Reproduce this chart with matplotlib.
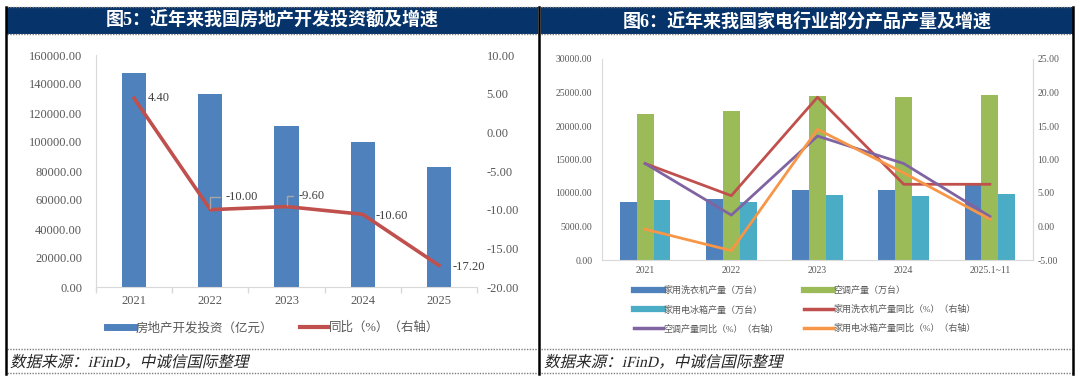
import matplotlib
matplotlib.use('Agg')
import numpy as np
import matplotlib.pyplot as plt
from matplotlib.lines import Line2D
from matplotlib.patches import Rectangle, PathPatch
from matplotlib.textpath import TextPath
from matplotlib.font_manager import FontProperties
from matplotlib.transforms import Affine2D

# ---------------- data ----------------
years_left = ['2021', '2022', '2023', '2024', '2025']
invest = [147602, 132895, 110913, 100280, 82788]
invest_yoy = [4.40, -10.00, -9.60, -10.60, -17.20]

cats_right = ['2021', '2022', '2023', '2024', '2025.1~11']
washer = [8600, 9106, 10458, 10440, 11300]
aircon = [21836, 22247, 24487, 24300, 24580]
fridge = [8992, 8664, 9632, 9550, 9900]
washer_yoy = [9.4, 4.6, 19.3, 6.3, 6.3]
aircon_yoy = [9.4, 1.7, 13.5, 9.4, 1.5]
fridge_yoy = [-0.4, -3.6, 14.5, 8.0, 1.1]

title_left = '图5：近年来我国房地产开发投资额及增速'
title_right = '图6：近年来我国家电行业部分产品产量及增速'
source_text = '数据来源：iFinD，中诚信国际整理'

# ---------------- style ----------------
SERIF = ['Liberation Serif', 'Noto Sans CJK SC']
plt.rcParams['font.family'] = SERIF
BLUE = '#4F81BD'
GREEN = '#9BBB59'
CYAN = '#4BACC6'
RED = '#C0504D'
PURPLE = '#8064A2'
ORANGE = '#F79646'
NAVY = '#05336A'
GRID = '#D9D9D9'
TXT = '#595959'

W, H = 1080, 380
fig = plt.figure(figsize=(W / 100, H / 100), dpi=100)


def fx(x):
    return x / W


def fy(y):
    return 1 - y / H


def add_ax(x0, y0, x1, y1):
    return fig.add_axes([fx(x0), fy(y1), (x1 - x0) / W, (y1 - y0) / H])


def hline(x0, x1, y, **kw):
    fig.add_artist(Line2D([fx(x0), fx(x1)], [fy(y), fy(y)], transform=fig.transFigure, **kw))


def vline(x, y0, y1, **kw):
    fig.add_artist(Line2D([fx(x), fx(x)], [fy(y0), fy(y1)], transform=fig.transFigure, **kw))


# ---------------- frames ----------------
for (x0, x1, title) in [(7, 538, title_left), (541, 1073, title_right)]:
    fig.add_artist(Rectangle((fx(x0), fy(34)), (x1 - x0) / W, 27 / H,
                             transform=fig.transFigure, color=NAVY, lw=0))
    fig.text(fx((x0 + x1) / 2), fy(21), title, color='white', fontsize=13,
             fontweight='bold', ha='center', va='center')
    for yy in (7, 34, 349, 373):
        hline(x0, x1, yy, color='#7F7F7F', lw=1, ls=(0, (1, 1)))
    # italic source text via skewed text path
    tp = TextPath((0, 0), source_text, size=11.2, prop=FontProperties(family=SERIF))
    tr = Affine2D().scale(100 / 72).skew_deg(13, 0).translate(x0 + 3, H - 367)
    fig.add_artist(PathPatch(tp, transform=tr, color='#262626', lw=0))

for xx in (6, 539, 1073):
    vline(xx, 7, 374, color='black', lw=1.8)

# ---------------- left chart ----------------
ax = add_ax(96, 55, 477, 287)
x = np.arange(len(years_left))
ax.bar(x, invest, width=0.32, color=BLUE, zorder=2)
ax.set_xlim(-0.5, len(years_left) - 0.5)
ax.set_ylim(0, 160000)
yt = np.arange(0, 160001, 20000)
ax.set_yticks(yt)
ax.set_yticklabels([f'{v:.2f}' for v in yt])
ax.set_xticks(x)
ax.set_xticklabels(years_left)
ax.set_xticks(np.arange(-0.5, len(years_left)), minor=True)
ax.tick_params(axis='x', which='major', length=0, pad=6, labelsize=9, labelcolor=TXT)
ax.tick_params(axis='x', which='minor', length=4, color=GRID, width=1)
ax.tick_params(axis='y', length=0, pad=10, labelsize=9, labelcolor=TXT)
for s in ('top', 'right'):
    ax.spines[s].set_visible(False)
ax.spines['left'].set_color(GRID)
ax.spines['bottom'].set_color(GRID)

ax2 = ax.twinx()
ax2.plot(x, invest_yoy, color=RED, lw=2.6, zorder=3)
ax2.set_ylim(-20, 10)
yt2 = np.arange(-20, 10.1, 5)
ax2.set_yticks(yt2)
ax2.set_yticklabels([f'{v:.2f}' for v in yt2])
ax2.tick_params(axis='y', length=0, pad=7, labelsize=9, labelcolor=TXT)
for s in ('top', 'right', 'left', 'bottom'):
    ax2.spines[s].set_visible(False)

label_off = [(10, 0, False), (11, 9, True), (9, 7.5, True), (9.5, -1.5, False), (9.5, -1.5, False)]
for xi, v, (dx, dy, lead) in zip(x, invest_yoy, label_off):
    kw = {}
    if lead:
        kw['arrowprops'] = dict(arrowstyle='-', color='#A6A6A6', lw=1,
                                connectionstyle='angle,angleA=0,angleB=90,rad=0',
                                relpos=(0, 0.5), shrinkA=2, shrinkB=1)
    ax2.annotate(f'{v:.2f}', (xi, v), xytext=(dx, dy), textcoords='offset points',
                 ha='left', va='center', fontsize=9, color='#404040', **kw)

h1 = [Line2D([], [], color=BLUE, lw=5), Line2D([], [], color=RED, lw=3)]
fig.legend(h1, ['房地产开发投资（亿元）', '同比（%）（右轴）'], loc='center',
           bbox_to_anchor=(fx(273), fy(328)), ncol=2, frameon=False, fontsize=9,
           handlelength=2.2, handletextpad=0.1, columnspacing=2.2, labelcolor=TXT)

# ---------------- right chart ----------------
bx = add_ax(602, 59, 1033, 260)
xr = np.arange(len(cats_right))
bw = 0.195
bx.bar(xr - bw, washer, width=bw, color=BLUE, zorder=2)
bx.bar(xr, aircon, width=bw, color=GREEN, zorder=2)
bx.bar(xr + bw, fridge, width=bw, color=CYAN, zorder=2)
bx.set_xlim(-0.5, len(cats_right) - 0.5)
bx.set_ylim(0, 30000)
yt = np.arange(0, 30001, 5000)
bx.set_yticks(yt)
bx.set_yticklabels([f'{v:.2f}' for v in yt])
bx.set_xticks(xr)
bx.set_xticklabels(cats_right)
bx.tick_params(axis='x', length=0, pad=4, labelsize=7, labelcolor=TXT)
bx.tick_params(axis='y', length=0, pad=7, labelsize=7, labelcolor=TXT)
bx.spines['top'].set_visible(False)
for s in ('left', 'bottom', 'right'):
    bx.spines[s].set_color(GRID)

bx2 = bx.twinx()
bx2.plot(xr, washer_yoy, color=RED, lw=2)
bx2.plot(xr, aircon_yoy, color=PURPLE, lw=2)
bx2.plot(xr, fridge_yoy, color=ORANGE, lw=2)
bx2.set_ylim(-5, 25)
yt2 = np.arange(-5, 25.1, 5)
bx2.set_yticks(yt2)
bx2.set_yticklabels([f'{v:.2f}' for v in yt2])
bx2.tick_params(axis='y', length=0, pad=3, labelsize=7, labelcolor=TXT)
bx2.spines['top'].set_visible(False)
bx2.spines['left'].set_visible(False)
bx2.spines['bottom'].set_visible(False)
bx2.spines['right'].set_color(GRID)

hA = [Line2D([], [], color=BLUE, lw=4.5), Line2D([], [], color=CYAN, lw=4.5),
      Line2D([], [], color=PURPLE, lw=2.5)]
lA = ['家用洗衣机产量（万台）', '家用电冰箱产量（万台）', '空调产量同比（%）（右轴）']
hB = [Line2D([], [], color=GREEN, lw=4.5), Line2D([], [], color=RED, lw=2.5),
      Line2D([], [], color=ORANGE, lw=2.5)]
lB = ['空调产量（万台）', '家用洗衣机产量同比（%）（右轴）', '家用电冰箱产量同比（%）（右轴）']
for hh, ll, xl in [(hA, lA, 634), (hB, lB, 804)]:
    fig.legend(hh, ll, loc='upper left', bbox_to_anchor=(fx(xl), fy(286)),
               frameon=False, fontsize=6.5, handlelength=3.2, handletextpad=0.1,
               labelspacing=1.1, borderpad=0, borderaxespad=0, labelcolor=TXT)

fig.savefig('out.png', dpi=100)
